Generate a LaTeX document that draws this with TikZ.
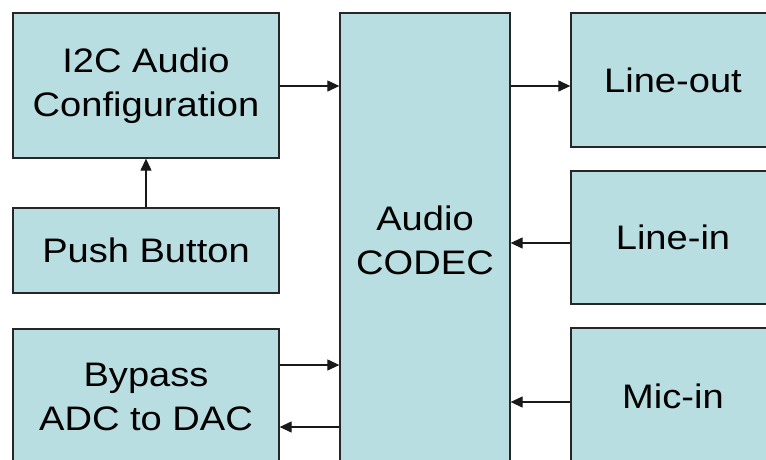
\documentclass[tikz,border=0pt]{standalone}
\usepackage{fontspec}
\setmainfont{Liberation Sans}[FakeStretch=1.12]
\usepackage{xcolor}
\usepackage{tikz}
\usetikzlibrary{arrows.meta}

\definecolor{boxfill}{RGB}{184,222,225}

\begin{document}
\begin{tikzpicture}[
  x=1pt, y=-1pt,
  box/.style={
    draw=black!85,
    line width=1.3pt,
    fill=boxfill,
    align=center,
    inner sep=0pt,
    font=\fontsize{34}{44}\selectfont
  },
  arrow/.style={-{Triangle[length=12pt,width=11pt]}, line width=1.2pt, black!90}
]
  \useasboundingbox (0,0) rectangle (766,459);
  \clip (0,0) rectangle (766,459);

  \node[box, minimum width=266pt, minimum height=145pt] (i2c) at (146,85.5) {I2C Audio\\Configuration};
  \node[box, minimum width=266pt, minimum height=85pt] (button) at (146,250.5) {Push Button};
  \node[box, minimum width=266pt, minimum height=136pt] (bypass) at (146,397) {Bypass\\ADC to DAC};
  \node[box, minimum width=170pt, minimum height=454pt] (codec) at (425,240) {Audio\\CODEC};
  \node[box, minimum width=204pt, minimum height=134pt] (lineout) at (673,80) {Line-out};
  \node[box, minimum width=204pt, minimum height=133pt] (linein) at (673,237.5) {Line-in};
  \node[box, minimum width=204pt, minimum height=137pt] (micin) at (673,396.5) {Mic-in};

  \draw[arrow] (button) -- (i2c);
  \draw[arrow] (i2c.east |- 0,86) -- (codec.west |- 0,86);
  \draw[arrow] (codec.east |- 0,86) -- (lineout.west |- 0,86);
  \draw[arrow] (linein.west |- 0,243) -- (codec.east |- 0,243);
  \draw[arrow] (micin.west |- 0,402) -- (codec.east |- 0,402);
  \draw[arrow] (bypass.east |- 0,365) -- (codec.west |- 0,365);
  \draw[arrow] (codec.west |- 0,427) -- (bypass.east |- 0,427);
\end{tikzpicture}
\end{document}
